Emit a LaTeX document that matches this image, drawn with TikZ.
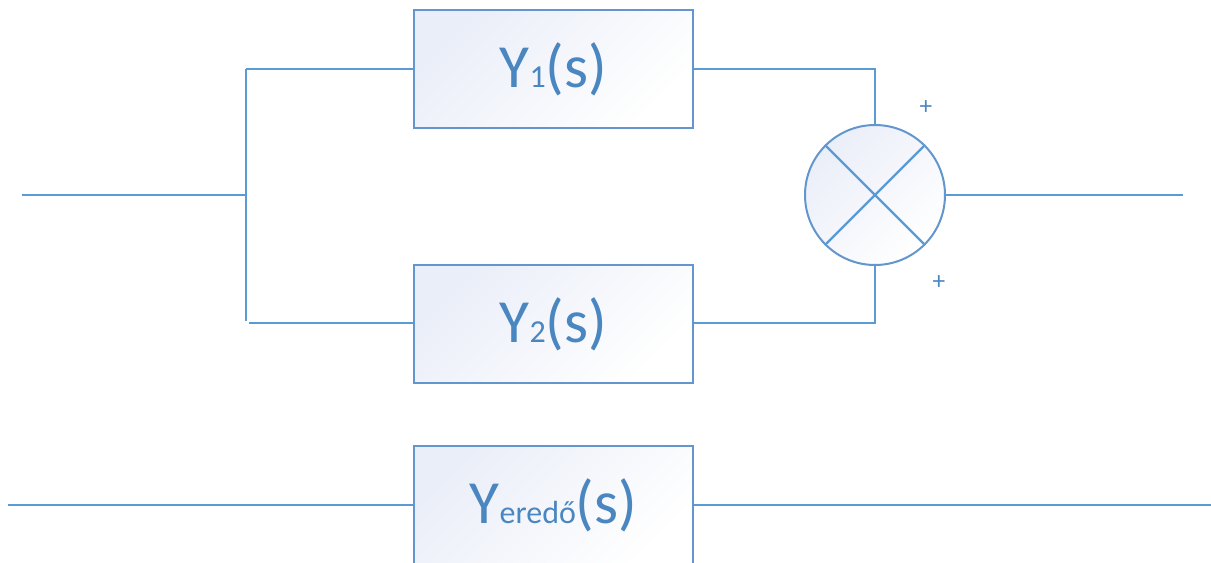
\documentclass[tikz,border=0pt]{standalone}
\usepackage{fontspec}
\setmainfont{Carlito}
\usetikzlibrary{positioning}
\definecolor{wire}{RGB}{91,155,213}
\definecolor{frame}{RGB}{98,150,205}
\definecolor{ink}{RGB}{74,134,192}
\definecolor{shade}{RGB}{234,238,248}
\newcommand{\bigtxt}{\fontsize{46}{50}\selectfont}
\newcommand{\subtxt}{\fontsize{24}{28}\selectfont}

\begin{document}
\begin{tikzpicture}[x=0.75pt, y=-0.75pt,
  block/.style={draw=frame, line width=1.5pt, top color=shade,
                bottom color=white, shading angle=45,
                minimum width=209pt, minimum height=88.5pt,
                inner sep=0pt, text=ink, font=\bigtxt},
  sum/.style={circle, draw=frame, line width=1.5pt, top color=shade,
              bottom color=white, shading angle=45,
              minimum size=105pt, inner sep=0pt},
  wire/.style={draw=wire, line width=1.7pt},
  sign/.style={text=ink, font=\fontsize{19}{21}\selectfont}
]
\clip (0,0) rectangle (1211,562);

% parallel branches
\node[block] (y1) at (553.5,69) {Y{\subtxt 1}(s)};
\node[block] (y2) at (553.5,324) {Y{\subtxt 2}(s)};
\node[sum] (sum) at (875,195) {};
\draw[wire] (sum.45) -- (sum.225);
\draw[wire] (sum.135) -- (sum.-45);

\coordinate (in) at (22,195);
\coordinate (split) at (246,195);
\coordinate (out) at (1183,195);

\draw[wire] (in) -- (split);
\draw[wire] (246,69) -- (246,321);
\draw[wire] (246,69) -- (y1.west);
\draw[wire] (249,323) -- (y2.west |- 0,323);
\draw[wire] (y1.east) -| (sum.north);
\draw[wire] (y2.east |- 0,323) -| (sum.south);
\draw[wire] (sum.east) -- (out);

\node[sign] (p1) at (926,108) {+};
\node[sign] (p2) at (939,283) {+};

% equivalent block
\node[block] (yer) at (553.5,505) {Y{\subtxt eredő}(s)};
\coordinate (in2) at (8,505);
\coordinate (out2) at (1211,505);
\draw[wire] (in2) -- (yer.west);
\draw[wire] (yer.east) -- (out2);
\end{tikzpicture}
\end{document}
